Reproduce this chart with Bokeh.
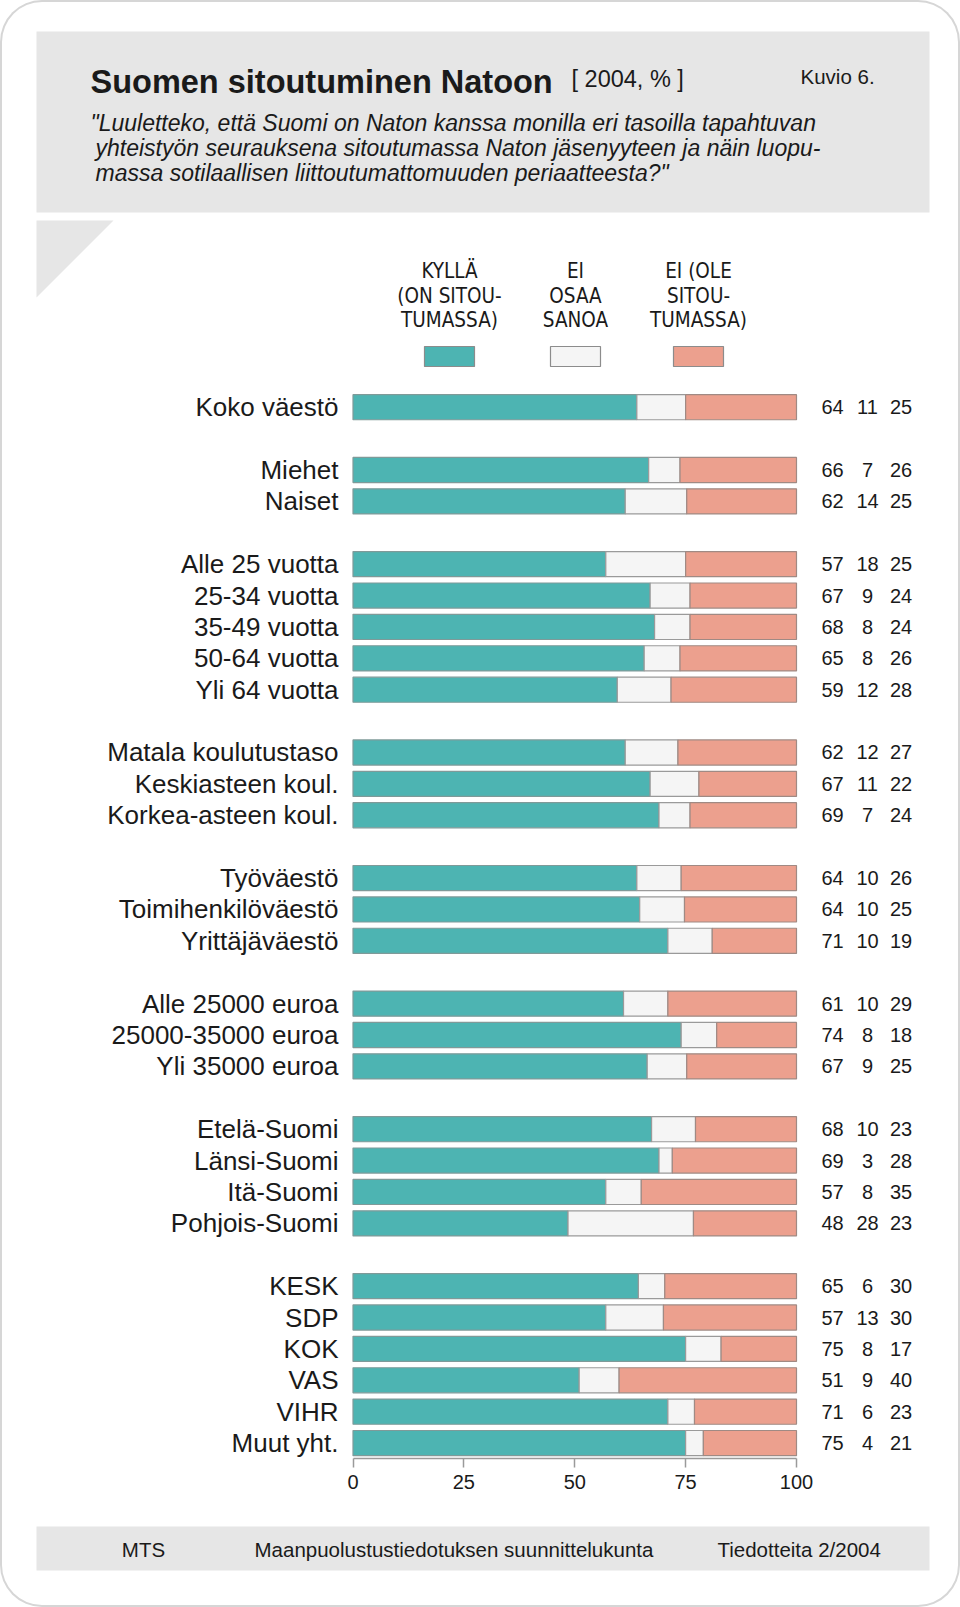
from bokeh.plotting import figure
from bokeh.models import Range1d, LinearAxis, FixedTicker, ColumnDataSource
from bokeh.layouts import column
from bokeh.embed import file_html
from bokeh.resources import INLINE
from bokeh.core.properties import value

# ---------------- data ----------------
categories = [
    "Koko väestö",
    "Miehet", "Naiset",
    "Alle 25 vuotta", "25-34 vuotta", "35-49 vuotta", "50-64 vuotta", "Yli 64 vuotta",
    "Matala koulutustaso", "Keskiasteen koul.", "Korkea-asteen koul.",
    "Työväestö", "Toimihenkilöväestö", "Yrittäjäväestö",
    "Alle 25000 euroa", "25000-35000 euroa", "Yli 35000 euroa",
    "Etelä-Suomi", "Länsi-Suomi", "Itä-Suomi", "Pohjois-Suomi",
    "KESK", "SDP", "KOK", "VAS", "VIHR", "Muut yht.",
]
kylla = [64, 66, 62, 57, 67, 68, 65, 59, 62, 67, 69, 64, 64, 71, 61, 74, 67, 68, 69, 57, 48, 65, 57, 75, 51, 71, 75]
eos = [11, 7, 14, 18, 9, 8, 8, 12, 12, 11, 7, 10, 10, 10, 10, 8, 9, 10, 3, 8, 28, 6, 13, 8, 9, 6, 4]
ei = [25, 26, 25, 25, 24, 24, 26, 28, 27, 22, 24, 26, 25, 19, 29, 18, 25, 23, 28, 35, 23, 30, 30, 17, 40, 23, 21]
group_sizes = [1, 2, 5, 3, 3, 3, 4, 6]
series_labels = [
    ["KYLLÄ", "(ON SITOU-", "TUMASSA)"],
    ["EI", "OSAA", "SANOA"],
    ["EI (OLE", "SITOU-", "TUMASSA)"],
]
series_colors = ["#4db4b2", "#f5f5f5", "#eca08e"]
ticks = [0, 25, 50, 75, 100]
title = "Suomen sitoutuminen Natoon"
title_note = "[ 2004, % ]"
figure_no = "Kuvio 6."
question = [
    "\"Luuletteko, että Suomi on Naton kanssa monilla eri tasoilla tapahtuvan",
    "yhteistyön seurauksena sitoutumassa Naton jäsenyyteen ja näin luopu-",
    "massa sotilaallisen liittoutumattomuuden periaatteesta?\"",
]
footer = ["MTS", "Maanpuolustustiedotuksen suunnittelukunta", "Tiedotteita 2/2004"]

# ---------------- layout constants (page pixels) ----------------
W = 960
TOTAL_H = 1607
PAGE_L, PAGE_R = 0, W
FRAME_TOP, FRAME_BOT = 0, 1458
AXIS_SPACE = 45
MAIN_H = FRAME_BOT - FRAME_TOP + AXIS_SPACE
FOOT_H = TOTAL_H - MAIN_H
X0_PX, X100_PX = 352.5, 796.0
ROW0_PX, ROW_STEP = 406.7, 31.39
FONT = "Liberation Sans"
NARROW = "DejaVu Sans Condensed, Liberation Sans"
TXT = "#1a1a1a"
GREY = "#e6e6e6"

# row index for each category (blank row between groups)
rows = []
r = 0
for g in group_sizes:
    for _ in range(g):
        rows.append(r)
        r += 1
    r += 1

# percent stacks (each bar normalised to 100)
tot = [a + b + c for a, b, c in zip(kylla, eos, ei)]
s1 = [a / t * 100 for a, t in zip(kylla, tot)]
s2 = [(a + b) / t * 100 for a, b, t in zip(kylla, eos, tot)]
src = ColumnDataSource(dict(row=rows, zero=[0] * len(rows), s1=s1, s2=s2,
                            full=[100] * len(rows)))

pct_per_px = 100.0 / (X100_PX - X0_PX)
x_start = (PAGE_L - X0_PX) * pct_per_px
x_end = (PAGE_R - X0_PX) * pct_per_px
r_start = (FRAME_BOT - ROW0_PX) / ROW_STEP
r_end = (FRAME_TOP - ROW0_PX) / ROW_STEP

p = figure(width=W, height=MAIN_H, x_range=Range1d(x_start, x_end),
           y_range=Range1d(r_start, r_end), output_backend="svg",
           toolbar_location=None, x_axis_type=None, y_axis_type=None,
           min_border_left=0, min_border_right=0, min_border_top=0,
           min_border_bottom=AXIS_SPACE,
           border_fill_color=None, background_fill_color=None,
           outline_line_color=None)
p.extra_x_ranges = {"px": Range1d(PAGE_L, PAGE_R)}
p.extra_y_ranges = {"px": Range1d(FRAME_BOT, FRAME_TOP)}

# header box and corner triangle
p.quad(left=[36], right=[929], top=[31], bottom=[212], x_range_name="px",
       y_range_name="px", fill_color=GREY, line_color=None)
p.patch(x=[36, 113, 36], y=[220, 220, 297], x_range_name="px", y_range_name="px",
        fill_color=GREY, line_color=None)


def txt(fig, x, y, s, size, align="left", baseline="middle", style="normal",
        font=FONT, xr="px", yr="px"):
    fig.text(x=x, y=y, text=s, x_range_name=xr, y_range_name=yr,
             text_font=value(font), text_font_size=size, text_font_style=style,
             text_align=align, text_baseline=baseline, text_color=TXT)


txt(p, [90], [81], [title], "32.5px", style="bold")
txt(p, [571], [78.5], [title_note], "23.5px")
txt(p, [800], [76], [figure_no], "20.5px")
txt(p, [90, 95, 95], [122, 147.5, 172], question, "23px", style="italic")

# legend
leg_x = [449, 575, 698]
for cx, lines, col in zip(leg_x, series_labels, series_colors):
    txt(p, [cx] * 3, [270.5, 295, 319.5], lines, "20.5px", align="center", font=NARROW)
    p.quad(left=[cx - 25], right=[cx + 25], top=[346], bottom=[366],
           x_range_name="px", y_range_name="px", fill_color=col,
           line_color="#8c8c8c", line_width=1.2)

# bars
bh = 0.8
p.hbar(y="row", left="zero", right="s1", height=bh, source=src,
       fill_color=series_colors[0], line_color="#7f9a99", line_width=1.2)
p.hbar(y="row", left="s1", right="s2", height=bh, source=src,
       fill_color=series_colors[1], line_color="#9a9a9a", line_width=1.2)
p.hbar(y="row", left="s2", right="full", height=bh, source=src,
       fill_color=series_colors[2], line_color="#a08a84", line_width=1.2)

# category labels and values
txt(p, [338] * len(rows), rows, categories, "26px", align="right", yr="default")
for cx, vals in zip([832, 867, 900.5], [kylla, eos, ei]):
    txt(p, [cx] * len(rows), rows, [str(v) for v in vals], "20px", align="center",
        yr="default")

ax = LinearAxis(ticker=FixedTicker(ticks=ticks), bounds=(0, 100))
ax.axis_line_color = "#9a9a9a"
ax.axis_line_width = 1.5
ax.major_tick_line_color = "#9a9a9a"
ax.major_tick_line_width = 1.5
ax.major_tick_in = 0
ax.major_tick_out = 9
ax.minor_tick_in = 0
ax.minor_tick_out = 0
ax.major_label_standoff = 7
ax.major_label_text_font = FONT
ax.major_label_text_font_size = "20px"
ax.major_label_text_color = TXT
p.add_layout(ax, "below")

# footer
FT = MAIN_H
f = figure(width=W, height=FOOT_H, x_range=Range1d(PAGE_L, PAGE_R),
           y_range=Range1d(FT + FOOT_H, FT), output_backend="svg",
           toolbar_location=None, x_axis_type=None, y_axis_type=None,
           min_border_left=0, min_border_right=0, min_border_top=0,
           min_border_bottom=0, border_fill_color=None,
           background_fill_color=None, outline_line_color=None)
f.quad(left=[36], right=[929], top=[1526], bottom=[1570], fill_color=GREY,
       line_color=None)
f.text(x=[143], y=[1549], text=[footer[0]], text_font=value(FONT),
       text_font_size="20.5px", text_align="center", text_baseline="middle",
       text_color=TXT)
f.text(x=[254, 717], y=[1549, 1549], text=footer[1:], text_font=value(FONT),
       text_font_size="20.5px", text_align="left", text_baseline="middle",
       text_color=TXT)

layout = column(p, f, spacing=0,
                styles={"border-radius": "42px",
                        "box-shadow": "inset 0 0 0 2px #d6d6d6"})

open("out.html", "w").write(file_html(layout, INLINE))
